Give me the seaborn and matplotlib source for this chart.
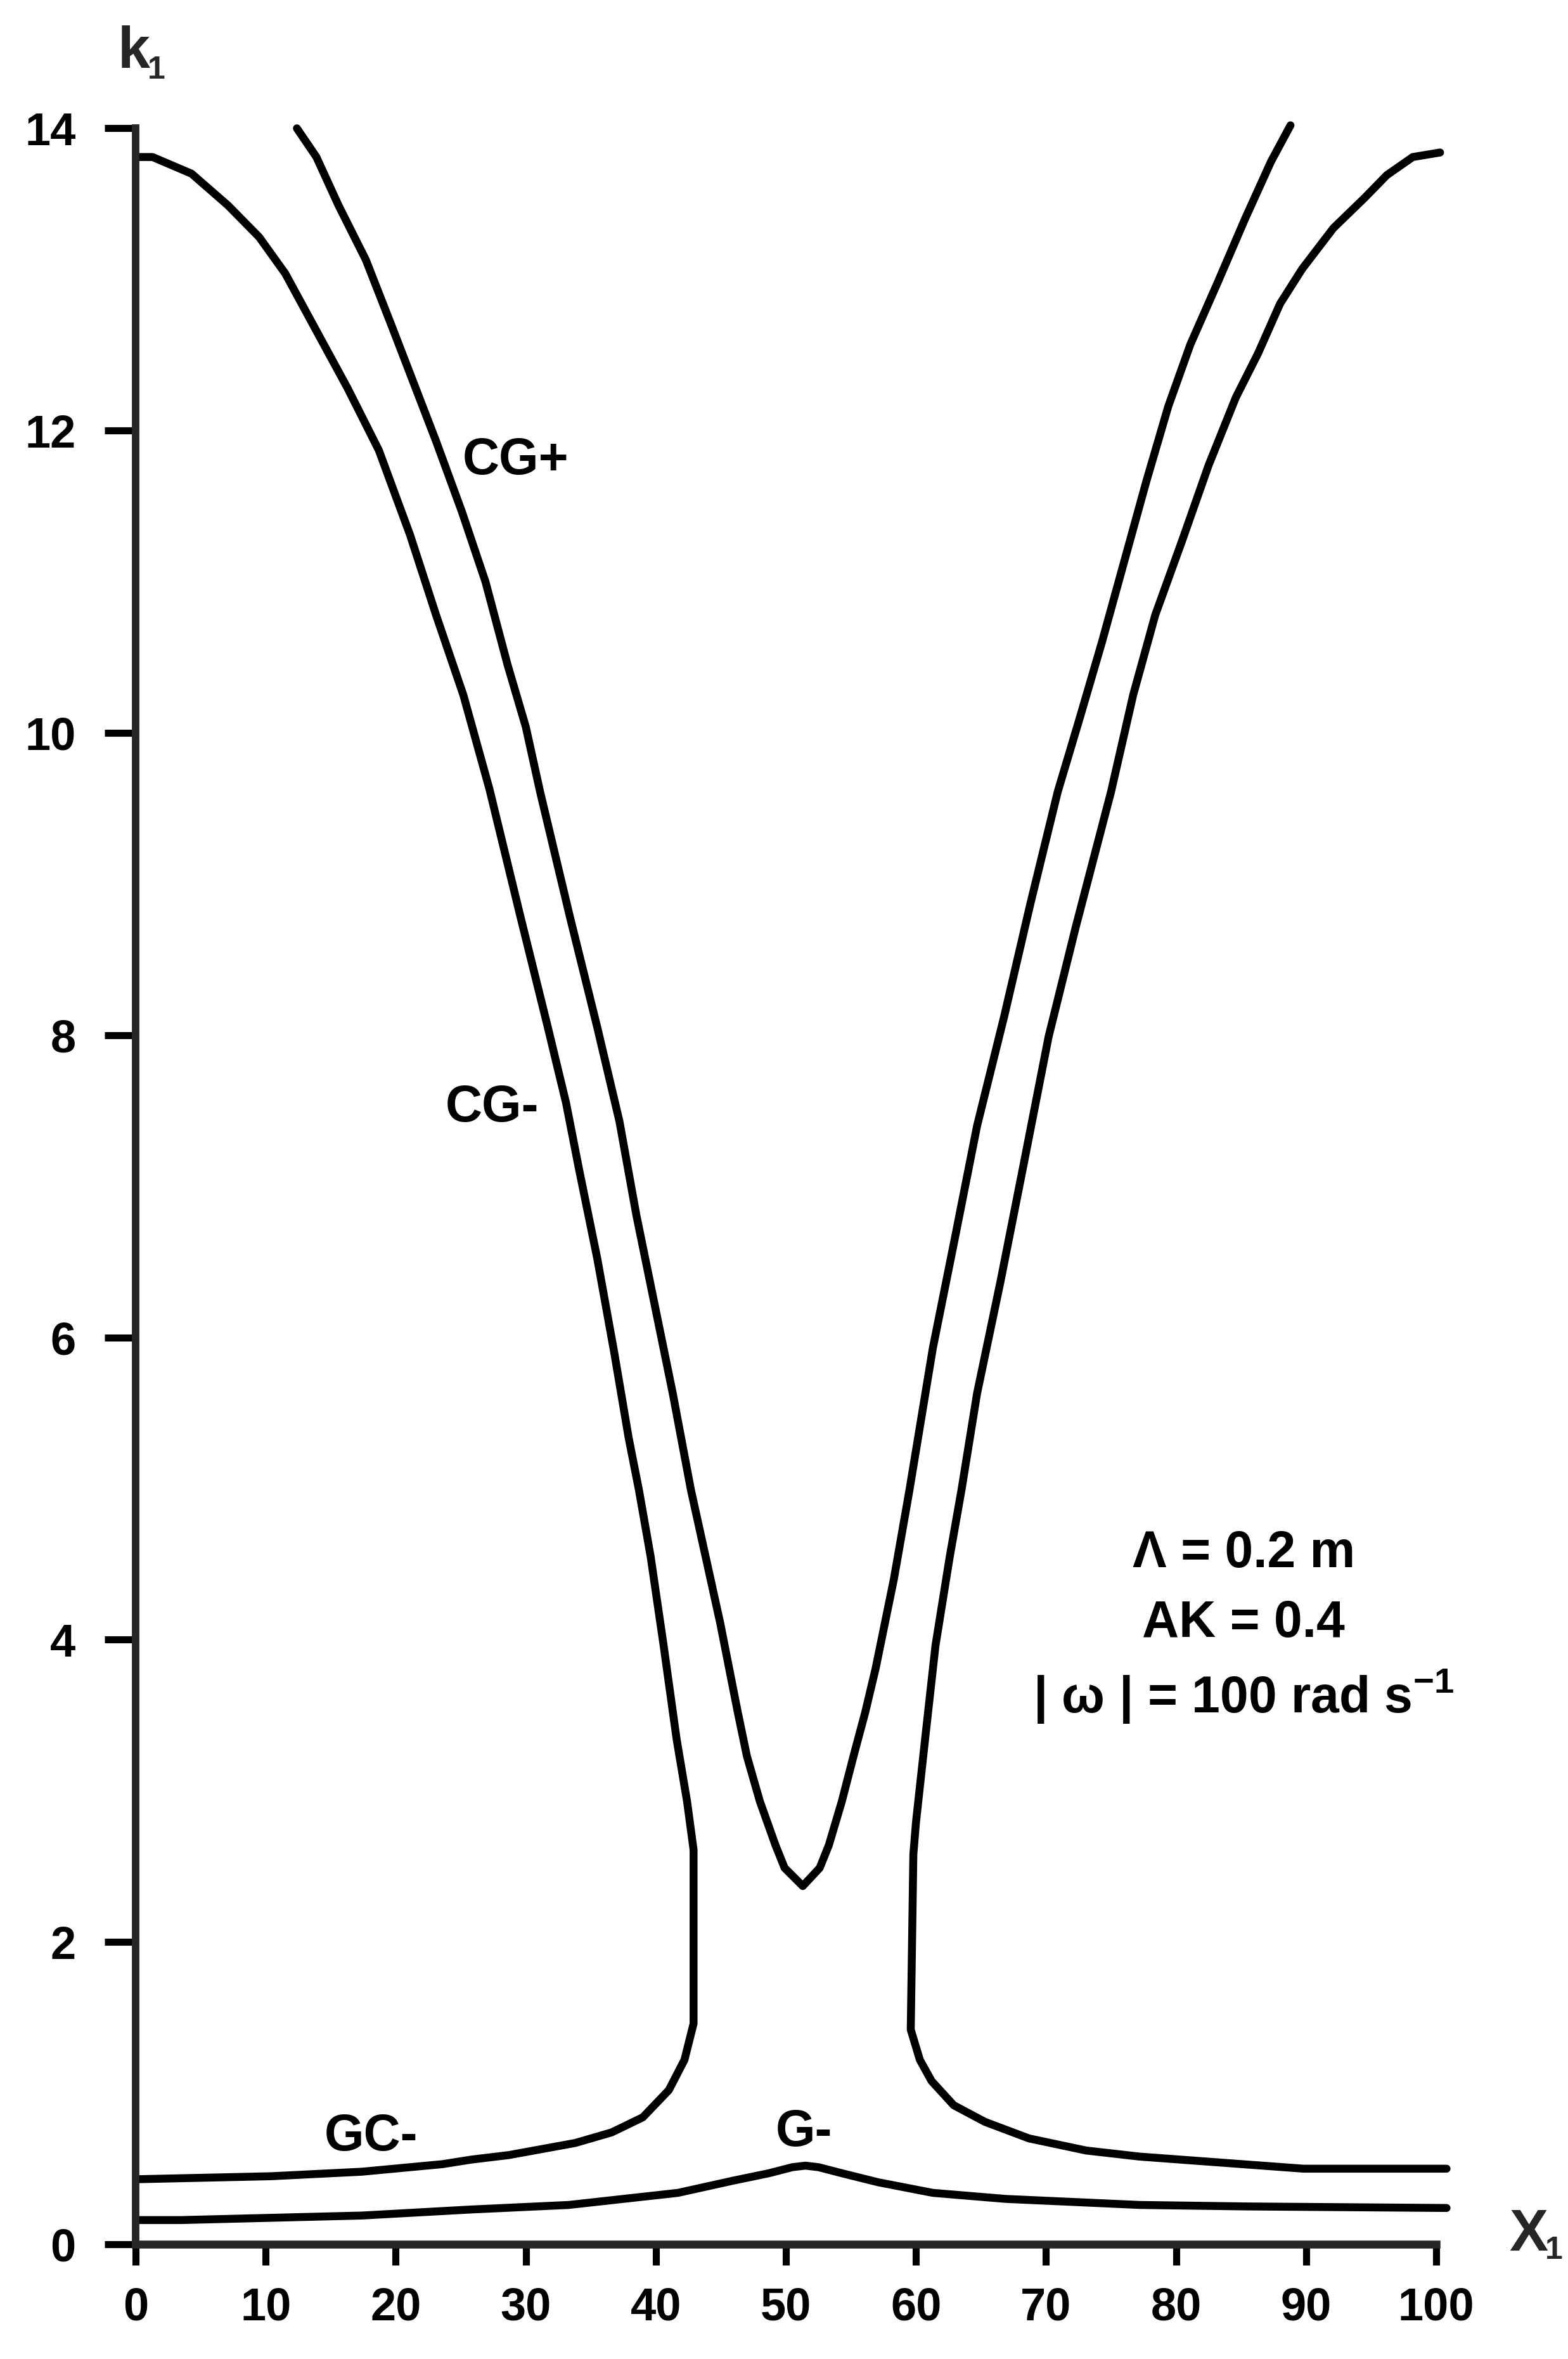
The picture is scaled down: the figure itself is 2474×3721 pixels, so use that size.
import matplotlib
matplotlib.use("Agg")
import matplotlib.pyplot as plt
import seaborn as sns

# Outer branch on the left: CG- coming down, then turning back as GC-
cg_minus_x = [0.0, 1.3, 4.3, 7.1, 9.5, 11.5, 13.9, 16.3, 18.7, 21.1, 23.1, 25.2, 27.2,
              29.6, 31.7, 33.1, 34.1, 35.5, 36.8, 37.9, 38.7, 39.6, 40.6, 41.6, 42.4,
              42.9, 42.9, 42.2, 41.0, 39.0, 36.6, 33.8, 28.7, 25.8, 23.6, 17.4, 10.4, 0.0]
cg_minus_y = [13.81, 13.81, 13.70, 13.49, 13.28, 13.04, 12.66, 12.28, 11.87, 11.31, 10.78,
              10.25, 9.63, 8.78, 8.05, 7.55, 7.11, 6.52, 5.90, 5.34, 4.99, 4.55, 3.96,
              3.34, 2.93, 2.61, 1.46, 1.22, 1.02, 0.84, 0.74, 0.67, 0.59, 0.56, 0.53,
              0.48, 0.45, 0.43]

# Outer branch on the right (mirror of the left one)
outer_right_x = [100.3, 98.2, 96.2, 94.5, 92.1, 89.7, 88.0, 86.3, 84.6, 82.5, 80.5, 78.4,
                 76.7, 75.0, 72.3, 70.2, 68.2, 66.5, 64.7, 63.5, 62.6, 61.5, 60.7, 60.0,
                 59.8, 59.6, 60.3, 61.2, 62.9, 65.3, 68.7, 73.1, 77.2, 83.5, 89.8, 95.0,
                 100.8]
outer_right_y = [13.84, 13.81, 13.69, 13.54, 13.34, 13.07, 12.84, 12.51, 12.22, 11.77,
                 11.28, 10.78, 10.25, 9.61, 8.72, 7.99, 7.11, 6.37, 5.63, 4.99, 4.55,
                 3.96, 3.34, 2.79, 2.58, 1.42, 1.22, 1.08, 0.92, 0.81, 0.70, 0.62, 0.58,
                 0.54, 0.50, 0.50, 0.50]

# Inner V-shaped branch CG+
cg_plus_x = [12.4, 13.9, 15.6, 17.7, 19.7, 21.4, 23.1, 25.1, 26.9, 28.6, 30.0, 31.1, 33.4,
             35.5, 37.2, 38.5, 39.9, 41.3, 42.7, 44.95, 46.3, 47.0, 48.0, 49.2, 49.9,
             51.3, 52.6, 53.3, 54.3, 55.2, 56.1, 56.9, 58.3, 59.5, 61.3, 63.0, 64.7,
             66.8, 68.8, 70.9, 72.6, 74.3, 76.0, 77.7, 79.4, 81.1, 83.2, 85.3, 87.3, 88.8]
cg_plus_y = [14.0, 13.81, 13.49, 13.13, 12.69, 12.31, 11.93, 11.46, 11.00, 10.45, 10.04,
             9.61, 8.78, 8.05, 7.43, 6.81, 6.22, 5.63, 4.99, 4.11, 3.52, 3.23, 2.93,
             2.64, 2.49, 2.37, 2.49, 2.64, 2.93, 3.23, 3.52, 3.81, 4.40, 4.99, 5.93,
             6.66, 7.40, 8.13, 8.87, 9.61, 10.10, 10.60, 11.13, 11.66, 12.16, 12.57,
             12.98, 13.40, 13.78, 14.02]

# Lowest branch G-
g_minus_x = [0.0, 3.5, 17.4, 25.8, 33.3, 41.7, 45.9, 48.7, 50.5, 51.5, 52.5, 54.3, 57.1,
             61.3, 66.9, 77.2, 85.6, 100.8]
g_minus_y = [0.16, 0.16, 0.19, 0.23, 0.26, 0.34, 0.42, 0.47, 0.51, 0.52, 0.51, 0.47, 0.41,
             0.34, 0.30, 0.26, 0.25, 0.24]

x_ticks = [0, 10, 20, 30, 40, 50, 60, 70, 80, 90, 100]
y_ticks = [0, 2, 4, 6, 8, 10, 12, 14]

branch_labels = ["CG+", "CG-", "GC-", "G-"]
branch_label_x = [29.2, 27.4, 18.1, 51.4]
branch_label_y = [11.71, 7.43, 0.62, 0.65]

param_lines = ["Λ = 0.2 m", "AK = 0.4", r"| ω | = 100 rad s$^{-1}$"]
param_y = [4.48, 4.02, 3.52]

sns.set_style("ticks")
plt.rcParams["font.family"] = ["Liberation Sans", "DejaVu Sans"]
plt.rcParams["font.weight"] = "bold"
plt.rcParams["mathtext.fontset"] = "custom"
plt.rcParams["mathtext.rm"] = "Liberation Sans:bold"
plt.rcParams["mathtext.it"] = "Liberation Sans:bold"
plt.rcParams["mathtext.bf"] = "Liberation Sans:bold"
plt.rcParams["mathtext.default"] = "regular"

fig = plt.figure(figsize=(24.74, 37.21), dpi=100)
ax = fig.add_axes([214 / 2474, 181 / 3721, 102 * 20.52 / 2474, 14.2 * 238.4 / 3721])

for xs, ys in [(cg_minus_x, cg_minus_y), (outer_right_x, outer_right_y),
               (cg_plus_x, cg_plus_y), (g_minus_x, g_minus_y)]:
    sns.lineplot(x=xs, y=ys, sort=False, estimator=None, color="black",
                 linewidth=9, ax=ax, solid_joinstyle="round", solid_capstyle="round")

ax.set_xlim(0, 102)
ax.set_ylim(0, 14.2)
ax.set_xticks(x_ticks)
ax.set_yticks(y_ticks)
ax.set_xticklabels([str(v) for v in x_ticks])
ax.set_yticklabels([str(v) for v in y_ticks])

for side in ["top", "right"]:
    ax.spines[side].set_visible(False)
ax.spines["left"].set_linewidth(8.5)
ax.spines["bottom"].set_linewidth(9)
ax.spines["left"].set_bounds(0, 14)
ax.spines["bottom"].set_bounds(0, 100)

ax.tick_params(axis="x", direction="out", length=24, width=8, pad=24,
               labelsize=52, colors="black")
ax.tick_params(axis="y", direction="out", length=35, width=8, pad=33,
               labelsize=52, colors="black")
for lab in ax.get_xticklabels() + ax.get_yticklabels():
    lab.set_fontweight("bold")

# Branch names
for txt, tx, ty in zip(branch_labels, branch_label_x, branch_label_y):
    ax.text(tx, ty, txt, ha="center", va="baseline", fontsize=58,
            fontweight="bold", color="black")

# Parameter block
for txt, ty in zip(param_lines, param_y):
    ax.text(85.2, ty, txt, ha="center", va="baseline", fontsize=58,
            fontweight="bold", color="black")

# Axis names with subscripts
ax.text(-1.36, 14.40, "k", ha="left", va="baseline", fontsize=66,
        fontweight="bold", clip_on=False)
ax.text(0.93, 14.33, "1", ha="left", va="baseline", fontsize=36,
        fontweight="bold", clip_on=False)
ax.text(105.6, -0.042, "X", ha="left", va="baseline", fontsize=66,
        fontweight="bold", clip_on=False)
ax.text(108.4, -0.096, "1", ha="left", va="baseline", fontsize=36,
        fontweight="bold", clip_on=False)

ax.set_xlabel("")
ax.set_ylabel("")
fig.savefig("out.png", dpi=100, facecolor="white")
